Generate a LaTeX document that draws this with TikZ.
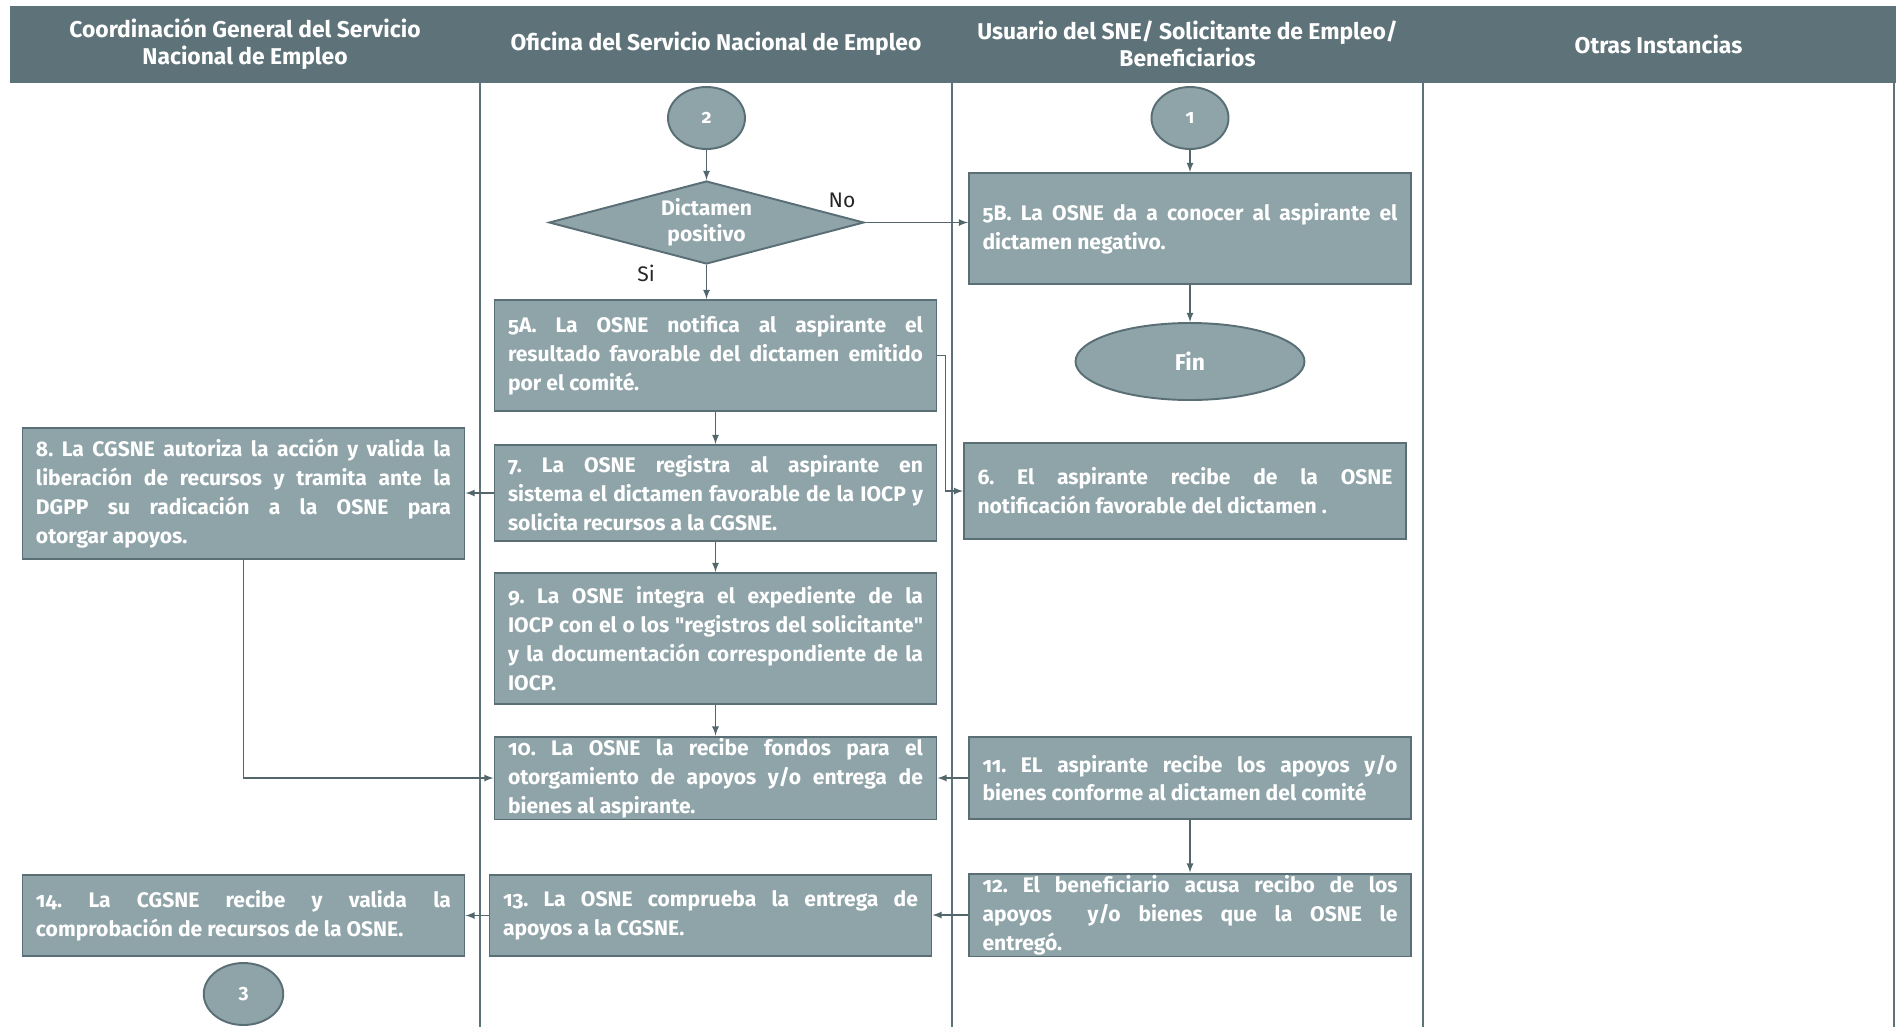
\documentclass[tikz,border=0pt]{standalone}
\usepackage{fontspec}
\setmainfont{Fira Sans}[Numbers=OldStyle]
\usepackage{tikz}
\usetikzlibrary{calc, shapes.geometric, arrows}
\definecolor{encabezado}{HTML}{5E7379}
\definecolor{caja}{HTML}{8FA4A9}
\definecolor{borde}{HTML}{5A6F75}
\definecolor{linea}{HTML}{52666C}
\hyphenpenalty=10000
\exhyphenpenalty=10000
\hbadness=10000
\frenchspacing
\tikzstyle{flecha}   = [thick,->,>=latex,draw=linea]
\tikzstyle{paso}     = [rectangle,draw=borde,line width=1.1pt,fill=caja,text=white,
                        font=\bfseries\fontsize{12}{16.4}\selectfont,align=justify,
                        text width=8.3cm,inner xsep=0.27cm,inner ysep=1pt]
\tikzstyle{conector} = [ellipse,draw=borde,line width=1.1pt,fill=caja,text=white,
                        font=\bfseries\fontsize{11}{14}\selectfont,
                        minimum width=1.54cm,minimum height=1.24cm,inner sep=0pt]
\tikzstyle{titulo}   = [text=white,align=center,font=\bfseries\fontsize{13}{15.2}\selectfont]
\tikzstyle{etiqueta} = [text=black!85,font=\fontsize{12}{14}\selectfont]

\begin{document}
\begin{tikzpicture}
  \useasboundingbox (0,0) rectangle (37.92,-20.54);

  %header and lanes
  \fill[encabezado] (0.2,-0.12) rectangle (37.92,-1.66);
  \foreach \x in {9.6,19.04,28.46,37.88}{
    \draw[draw=encabezado,line width=1pt] (\x,-1.66) -- (\x,-20.54);
  }
  \node[titulo] (h1) at (4.9,-0.88) {Coordinación General del Servicio\\Nacional de Empleo};
  \node[titulo] (h2) at (14.32,-0.88) {Oficina del Servicio Nacional de Empleo};
  \node[titulo] (h3) at (23.75,-0.88) {Usuario del SNE/ Solicitante de Empleo/\\Beneficiarios};
  \node[titulo] (h4) at (33.17,-0.88) {Otras Instancias};

  %connectors and decision
  \node[conector] (c2) at (14.13,-2.36) {2};
  \node[conector] (c1) at (23.8,-2.36) {1};
  \node[diamond,aspect=3.8,draw=borde,line width=1.1pt,fill=caja,text=white,align=center,
        font=\bfseries\fontsize{12}{14.5}\selectfont,minimum width=6.3cm,minimum height=1.66cm,
        inner sep=0pt] (dec) at (14.13,-4.45) {Dictamen\\positivo};
  \node[etiqueta] (no) at (16.84,-4.0) {No};
  \node[etiqueta] (si) at (12.92,-5.46) {Si};

  %steps
  \node[paso,minimum height=2.22cm] (p5b) at (23.8,-4.57)
    {5B. La OSNE da a conocer al aspirante el\linebreak dictamen negativo.};
  \node[conector,minimum width=4.58cm,minimum height=1.54cm,
        font=\bfseries\fontsize{13}{16}\selectfont] (fin) at (23.8,-7.23) {Fin};
  \node[paso,minimum height=2.22cm] (p5a) at (14.31,-7.11)
    {5A. La OSNE notifica al aspirante el\linebreak resultado favorable del dictamen emitido\linebreak por el comité.};
  \node[paso,minimum height=1.92cm] (p7) at (14.31,-9.86)
    {7. La OSNE registra al aspirante en\linebreak sistema el dictamen favorable de la IOCP y\linebreak solicita recursos a la CGSNE.};
  \node[paso,minimum height=2.62cm] (p8) at (4.87,-9.87)
    {8. La CGSNE autoriza la acción y valida la\linebreak liberación de recursos y tramita ante la\linebreak DGPP su radicación a la OSNE para\linebreak otorgar apoyos.};
  \node[paso,minimum height=1.92cm] (p6) at (23.7,-9.82)
    {6. El aspirante recibe de la OSNE\linebreak notificación favorable del dictamen .};
  \node[paso,minimum height=2.62cm] (p9) at (14.31,-12.77)
    {9. La OSNE integra el expediente de la\linebreak IOCP con el o los \textquotedbl registros del solicitante\textquotedbl\linebreak y la documentación correspondiente de la\linebreak IOCP.};
  \node[paso,minimum height=1.64cm] (p10) at (14.31,-15.56)
    {10. La OSNE la recibe fondos para el\linebreak otorgamiento de apoyos y/o entrega de\linebreak bienes al aspirante.};
  \node[paso,minimum height=1.64cm] (p11) at (23.8,-15.56)
    {11. EL aspirante recibe los apoyos y/o\linebreak bienes conforme al dictamen del comité};
  \node[paso,minimum height=1.64cm] (p12) at (23.8,-18.3)
    {12. El beneficiario acusa recibo de los\linebreak apoyos \ y/o bienes que la OSNE le\linebreak entregó.};
  \node[paso,minimum height=1.62cm] (p13) at (14.21,-18.31)
    {13. La OSNE comprueba la entrega de\linebreak apoyos a la CGSNE.};
  \node[paso,minimum height=1.62cm] (p14) at (4.87,-18.31)
    {14. La CGSNE recibe y valida la\linebreak comprobación de recursos de la OSNE.};
  \node[conector,minimum width=1.59cm] (c3) at (4.87,-19.88) {3};

  %arrows
  \draw[flecha] (c2) -- (dec);
  \draw[flecha] (dec.east) -- (dec.east -| p5b.west);
  \draw[flecha] (dec.south) -- (dec.south |- p5a.north);
  \draw[flecha] (c1) -- (p5b);
  \draw[flecha] (p5b) -- (fin);
  \draw[flecha] (p5a) -- (p7);
  \draw[flecha] (p5a.east) -- ++(0.16,0) |- (p6.west);
  \draw[flecha] (p7.west) -- (p7.west -| p8.east);
  \draw[flecha] (p7) -- (p9);
  \draw[flecha] (p9) -- (p10);
  \draw[flecha] (p8.south) |- (p10.west);
  \draw[flecha] (p11.west) -- (p10.east);
  \draw[flecha] (p11) -- (p12);
  \draw[flecha] (p12.west) -- (p12.west -| p13.east);
  \draw[flecha] (p13.west) -- (p13.west -| p14.east);
\end{tikzpicture}
\end{document}
